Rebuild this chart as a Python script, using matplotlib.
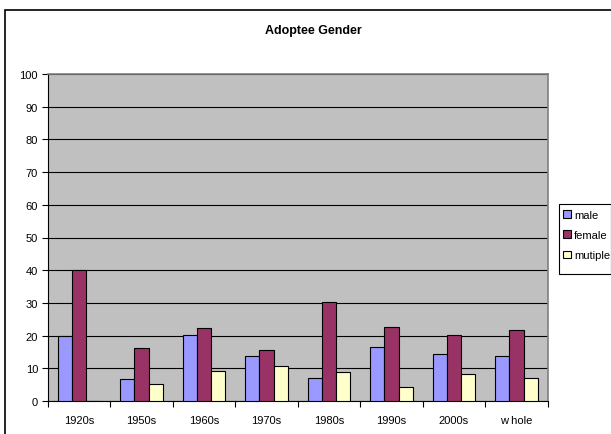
import numpy as np
import matplotlib.pyplot as plt
from matplotlib.patches import Rectangle

# Values
categories = ['1920s', '1950s', '1960s', '1970s', '1980s', '1990s', '2000s', 'w hole']
male = [20.0, 6.7, 20.3, 13.9, 7.0, 16.6, 14.3, 13.9]
female = [40.0, 16.2, 22.2, 15.6, 30.3, 22.5, 20.2, 21.6]
mutiple = [0.0, 5.1, 9.3, 10.6, 8.9, 4.4, 8.3, 7.0]

plt.rcParams['font.family'] = ['Liberation Sans', 'DejaVu Sans']

W, H = 611, 435
fig = plt.figure(figsize=(W / 100, H / 100), dpi=100)
ax = fig.add_axes([47.7 / W, 33 / H, 500 / W, 327 / H])
ax.set_facecolor('#C0C0C0')

x = np.arange(len(categories))
w = 0.227
series = [(male, '#9999FF', 'male'), (female, '#993366', 'female'), (mutiple, '#FFFFCC', 'mutiple')]
for i, (vals, col, lab) in enumerate(series):
    ax.bar(x + (i - 1) * w, vals, width=w, color=col, edgecolor='black', linewidth=0.8, label=lab, zorder=3)

ax.set_xlim(-0.5, len(categories) - 0.5)
ax.set_ylim(0, 100)
ax.set_yticks(np.arange(0, 101, 10))
ax.yaxis.grid(True, color='black', linewidth=0.8, zorder=1)
ax.set_axisbelow(True)

ax.set_xticks(x)
ax.set_xticklabels(categories)
ax.set_xticks(np.arange(-0.5, len(categories), 1), minor=True)
ax.tick_params(axis='x', which='major', length=0, pad=10, labelsize=8)
ax.tick_params(axis='x', which='minor', length=4, direction='out', width=0.8)
ax.tick_params(axis='y', length=4, direction='out', width=0.8, labelsize=8, pad=3)

for s in ['left', 'bottom']:
    ax.spines[s].set_color('black')
    ax.spines[s].set_linewidth(0.8)
for s in ['top', 'right']:
    ax.spines[s].set_color('#808080')
    ax.spines[s].set_linewidth(1.2)

fig.text(313 / W, 1 - 31 / H, 'Adoptee Gender', ha='center', va='center', fontsize=9, fontweight='bold')

# legend entries, frame drawn separately (taller than wide padding)
leg = fig.legend(loc='upper left', bbox_to_anchor=(559 / W, 1 - 207 / H), fontsize=8,
                 handlelength=0.7, handleheight=0.7, handletextpad=0.3, labelspacing=0.92,
                 borderpad=0.35, borderaxespad=0, frameon=False)
fig.patches.append(Rectangle((559 / W, 1 - 275 / H), 52 / W, 70 / H, transform=fig.transFigure,
                             fill=False, edgecolor='black', linewidth=0.8))

# outer chart border (right and bottom run off the image)
fig.patches.append(Rectangle((5 / W, -0.05), 1.0, (H - 11) / H + 0.05, transform=fig.transFigure,
                             fill=False, edgecolor='black', linewidth=1.2))

fig.savefig('out.png', dpi=100)
